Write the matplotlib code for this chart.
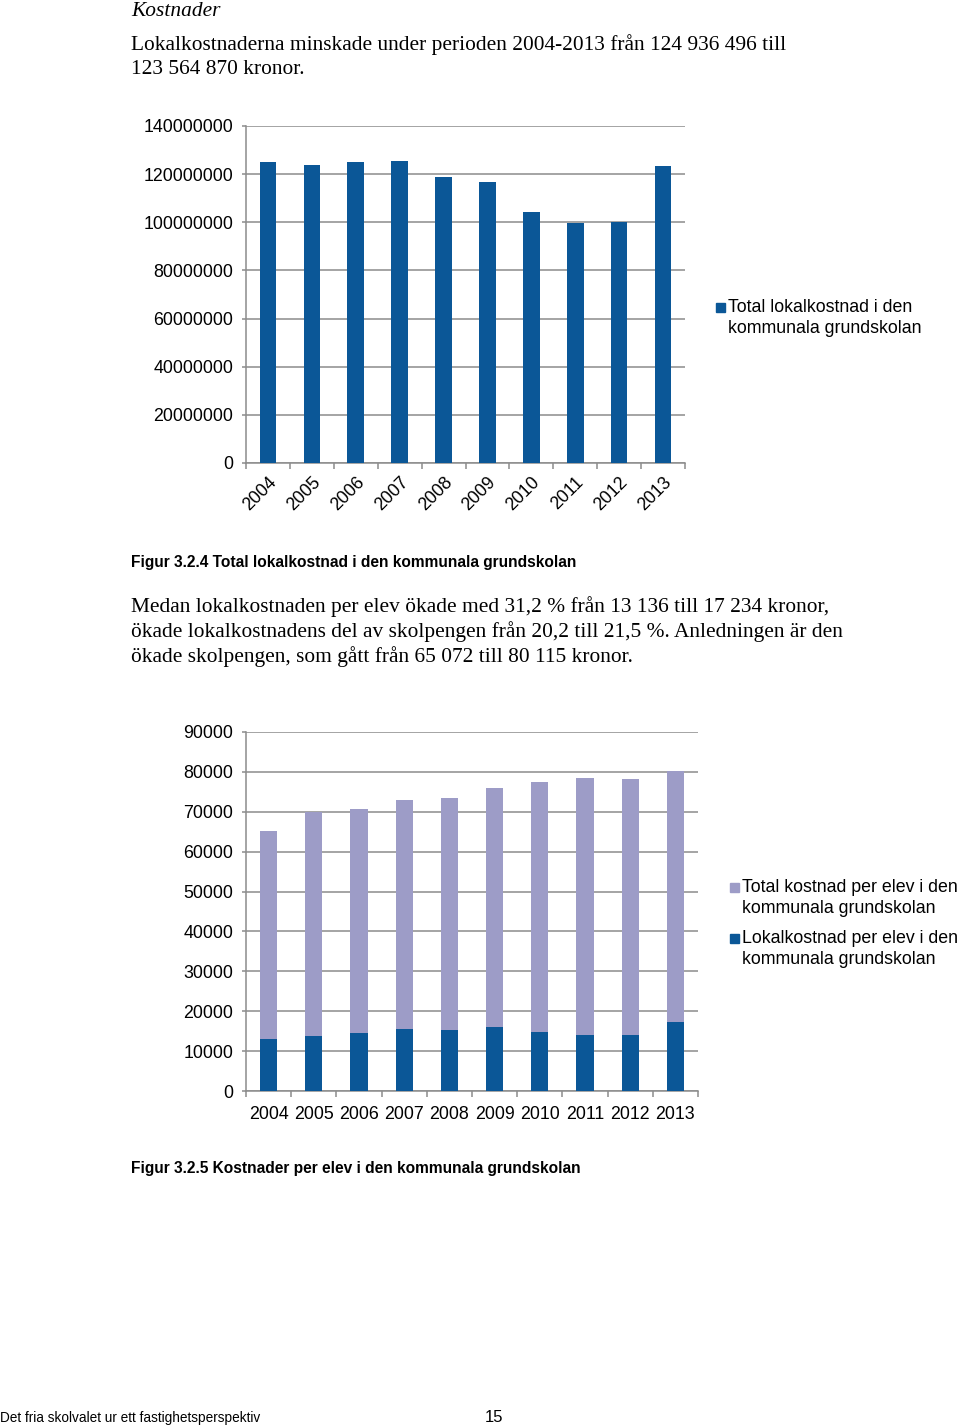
import numpy as np
import matplotlib
matplotlib.use("Agg")
import matplotlib.pyplot as plt
from matplotlib.patches import Rectangle

# data
years = ['2004', '2005', '2006', '2007', '2008', '2009', '2010', '2011', '2012', '2013']
lokal_total = [124936496, 123900000, 124850000, 125300000, 118700000,
               116700000, 104400000, 99700000, 99950000, 123564870]
kostnad_per_elev = [65072, 70000, 70800, 72900, 73500, 76000, 77500, 78400, 78100, 80115]
lokal_per_elev = [13136, 13800, 14650, 15500, 15400, 16000, 14800, 14150, 14150, 17234]

legend1 = 'Total lokalkostnad i den\nkommunala grundskolan'
legend2a = 'Total kostnad per elev i den\nkommunala grundskolan'
legend2b = 'Lokalkostnad per elev i den\nkommunala grundskolan'

DARK = '#0b5797'
LIGHT = '#9d9cc7'
GRID = '#8c8c8c'
W, H = 960, 1427

plt.rcParams['font.family'] = ['Liberation Sans', 'DejaVu Sans']

fig = plt.figure(figsize=(W / 100, H / 100), dpi=100)
fig.patch.set_facecolor('white')


def box(x0, y0, x1, y1):
    # pixel box (top-left origin) -> figure fraction rect
    return [x0 / W, 1 - y1 / H, (x1 - x0) / W, (y1 - y0) / H]


def ftext(x, y, s, **kw):
    fig.text(x / W, 1 - y / H, s, **kw)


def style_axes(ax, ymax, step):
    x = np.arange(len(years))
    ax.set_xlim(-0.5, len(years) - 0.5)
    ax.set_ylim(0, ymax)
    ax.set_yticks(np.arange(0, ymax + 1, step))
    ax.yaxis.set_major_formatter(matplotlib.ticker.FuncFormatter(lambda v, p: '%d' % v))
    ax.grid(axis='y', color=GRID, linewidth=1.1)
    ax.set_axisbelow(True)
    for s in ['top', 'right']:
        ax.spines[s].set_visible(False)
    for s in ['left', 'bottom']:
        ax.spines[s].set_color(GRID)
        ax.spines[s].set_linewidth(1.1)
    ax.set_xticks(np.arange(-0.5, len(years)), minor=False)
    ax.set_xticklabels([])
    ax.set_xticks(x, minor=True)
    ax.tick_params(axis='x', which='major', length=4, color=GRID, width=1.1)
    ax.tick_params(axis='x', which='minor', length=0)
    ax.tick_params(axis='y', length=3, color=GRID, width=1.1, labelsize=12.8, pad=6)
    return x


# ---------- text above chart 1
ftext(131, 11, 'Kostnader', family='Liberation Serif', style='italic', fontsize=15.4, va='center')
ftext(131, 45, 'Lokalkostnaderna minskade under perioden 2004-2013 från 124 936 496 till',
      family='Liberation Serif', fontsize=15.4, va='center')
ftext(131, 69, '123 564 870 kronor.', family='Liberation Serif', fontsize=15.4, va='center')

# ---------- chart 1
ax1 = fig.add_axes(box(246, 126, 685, 463))
x = style_axes(ax1, 140000000, 20000000)
ax1.bar(x, lokal_total, width=0.38, color=DARK, zorder=3)
ax1.set_xticklabels(years, minor=True, rotation=45, ha='right', va='top',
                    rotation_mode='anchor', fontsize=12.8)
ax1.tick_params(axis='x', which='minor', pad=8)

fig.patches.append(Rectangle((716 / W, 1 - 312 / H), 9 / W, 9 / H,
                             transform=fig.transFigure, color=DARK))
ftext(728, 318, legend1, fontsize=12.8, va='center', linespacing=1.25)

ftext(131, 562, 'Figur 3.2.4 Total lokalkostnad i den kommunala grundskolan',
      fontsize=11.2, weight='bold', va='center')

para = ['Medan lokalkostnaden per elev ökade med 31,2 % från 13 136 till 17 234 kronor,',
        'ökade lokalkostnadens del av skolpengen från 20,2 till 21,5 %. Anledningen är den',
        'ökade skolpengen, som gått från 65 072 till 80 115 kronor.']
for i, line in enumerate(para):
    ftext(131, 607 + 25 * i, line, family='Liberation Serif', fontsize=15.4, va='center')

# ---------- chart 2
ax2 = fig.add_axes(box(246, 732, 698, 1091))
x = style_axes(ax2, 90000, 10000)
ax2.bar(x, kostnad_per_elev, width=0.38, color=LIGHT, zorder=3)
ax2.bar(x, lokal_per_elev, width=0.38, color=DARK, zorder=4)
ax2.set_xticklabels(years, minor=True, fontsize=12.8)
ax2.tick_params(axis='x', which='minor', pad=11)

fig.patches.append(Rectangle((730 / W, 1 - 892 / H), 9 / W, 9 / H,
                             transform=fig.transFigure, color=LIGHT))
ftext(742, 898, legend2a, fontsize=12.8, va='center', linespacing=1.25)
fig.patches.append(Rectangle((730 / W, 1 - 943 / H), 9 / W, 9 / H,
                             transform=fig.transFigure, color=DARK))
ftext(742, 949, legend2b, fontsize=12.8, va='center', linespacing=1.25)

ftext(131, 1168, 'Figur 3.2.5 Kostnader per elev i den kommunala grundskolan',
      fontsize=11.2, weight='bold', va='center')

# ---------- footer
ftext(0, 1418, 'Det fria skolvalet ur ett fastighetsperspektiv', fontsize=9.8, va='center')
ftext(485, 1418, '15', fontsize=12, va='center')

fig.savefig('out.png', dpi=100)
